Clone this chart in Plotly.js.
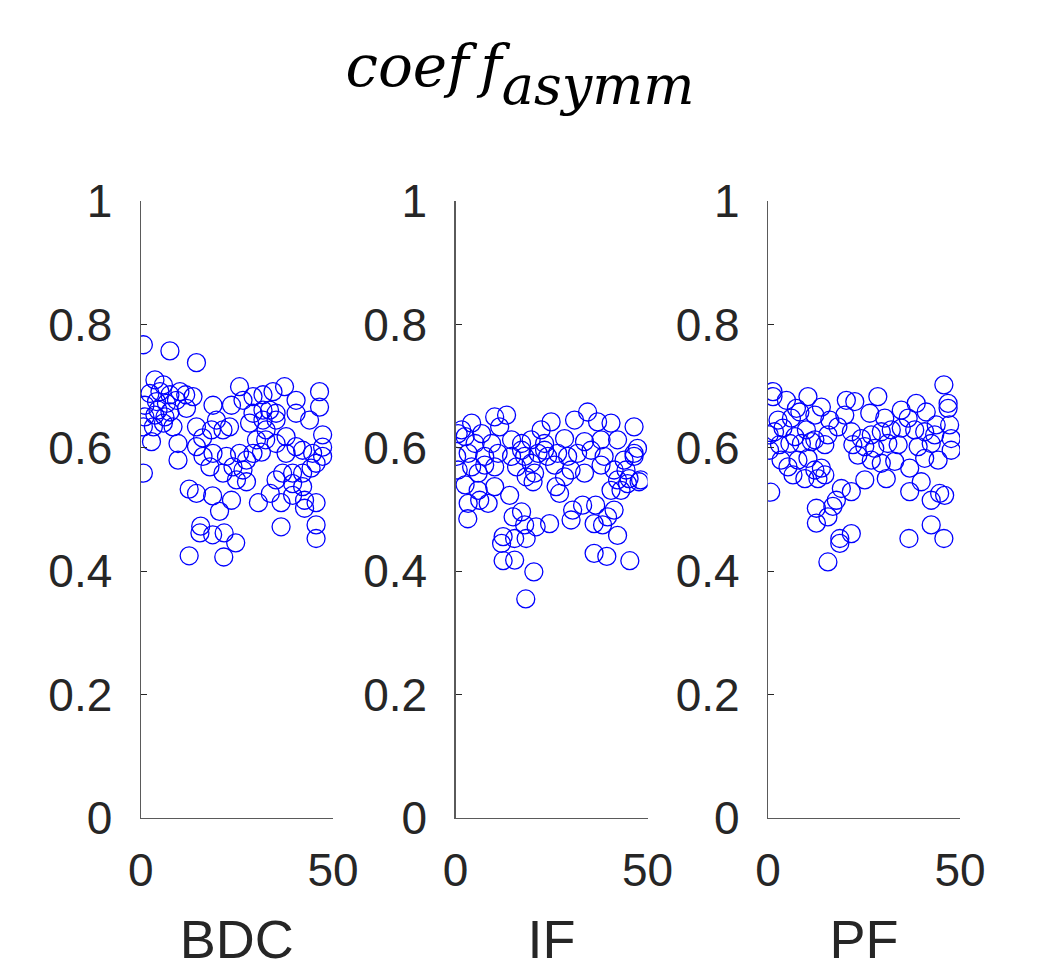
<!DOCTYPE html>
<html>
<head>
<meta charset="utf-8">
<script src="https://cdn.plot.ly/plotly-3.0.1.min.js"></script>
<style>html,body{margin:0;padding:0;background:#fff;}#chart{width:1039px;height:969px;}</style>
</head>
<body>
<div id="chart"></div>
<script>
// ---- data ----
const panelNames = ["BDC", "IF", "PF"];
const xTickVals = [0, 50];
const yTickVals = [0, 0.2, 0.4, 0.6, 0.8, 1];
const yTickText = ["0", "0.2", "0.4", "0.6", "0.8", "1"];

const bdcX = [0.7,7.6,14.5,0.7,3.7,5.9,2.4,5.0,7.6,10.2,13.6,1.1,4.1,6.7,9.3,11.9,1.1,3.7,6.3,0.7,3.3,5.9,8.4,2.8,9.7,9.7,14.5,18.8,19.7,21.4,18.4,23.1,23.6,25.7,26.6,29.2,31.8,34.4,37.4,40.4,46.5,46.5,43.9,47.3,29.2,31.8,33.5,35.2,31.8,35.2,40.4,28.3,32.6,14.5,16.2,18.8,18.0,22.3,25.7,27.5,24.0,26.6,24.9,27.5,21.4,30.1,29.2,35.2,37.8,40.4,37.8,42.1,44.7,47.3,45.6,36.9,39.5,42.1,44.3,35.2,39.5,42.1,12.6,14.5,15.6,15.4,18.7,21.7,24.7,12.6,21.6,18.7,20.5,23.6,30.6,33.7,36.5,39.5,42.6,45.6,42.6,36.5,45.6,45.6,4.5,7.6,11.7,16.1,31.4,32.5,47.3];
const bdcY = [0.767,0.757,0.738,0.559,0.710,0.702,0.688,0.691,0.686,0.691,0.683,0.669,0.675,0.672,0.677,0.664,0.650,0.653,0.650,0.634,0.634,0.640,0.634,0.610,0.607,0.580,0.634,0.669,0.645,0.629,0.629,0.634,0.669,0.699,0.677,0.683,0.686,0.691,0.699,0.677,0.691,0.666,0.645,0.621,0.656,0.661,0.661,0.656,0.645,0.645,0.656,0.640,0.629,0.602,0.586,0.591,0.569,0.586,0.591,0.580,0.569,0.564,0.548,0.545,0.559,0.613,0.591,0.607,0.618,0.602,0.591,0.596,0.591,0.586,0.575,0.559,0.559,0.559,0.567,0.548,0.542,0.537,0.533,0.526,0.473,0.462,0.459,0.462,0.446,0.425,0.423,0.522,0.497,0.515,0.511,0.526,0.511,0.523,0.515,0.511,0.502,0.472,0.475,0.453,0.661,0.658,0.686,0.616,0.593,0.613,0.601];

const ifX = [18.3,20.4,12.4,15.4,45.4,36.1,39.4,42.2,12.4,12.0,15.4,18.4,18.0,21.0,24.5,15.0,17.2,3.2,3.3,8.5,14.1,6.3,36.1,38.3,39.6,41.3,30.1,30.5,33.1,36.5,27.1,26.2,40.5,43.1,44.8,47.8,10.2,2.5,5.9,20.2,18.4,34.4,24.9,10.2,13.3,4.2,31.0,37.0,40.5,46.5,11.5,22.3,0.7,2.5,6.8,28.4,14.6,17.2,19.7,23.2,33.6,37.9,42.2,9.4,5.1,47.4,0.3,0.7,3.3,7.6,11.1,14.6,18.0,21.5,24.0,26.6,29.2,31.8,35.3,38.7,43.9,46.5,4.2,7.6,10.2,15.9,19.7,25.8,30.1,33.6,37.9,41.3,44.4,48.2,45.2,5.9,20.6,28.4,42.2,17.2,23.2,1.6,46.5];
const ifY = [0.355,0.399,0.417,0.418,0.417,0.429,0.424,0.458,0.456,0.445,0.453,0.453,0.475,0.472,0.477,0.488,0.496,0.485,0.510,0.510,0.523,0.515,0.477,0.475,0.488,0.499,0.483,0.499,0.507,0.507,0.526,0.537,0.531,0.531,0.542,0.545,0.537,0.540,0.531,0.545,0.553,0.658,0.642,0.650,0.653,0.640,0.645,0.642,0.640,0.634,0.634,0.629,0.623,0.618,0.623,0.615,0.613,0.607,0.613,0.607,0.610,0.613,0.613,0.607,0.607,0.599,0.586,0.564,0.591,0.586,0.591,0.586,0.586,0.591,0.586,0.591,0.586,0.591,0.596,0.586,0.580,0.586,0.569,0.572,0.569,0.569,0.575,0.572,0.564,0.559,0.572,0.564,0.564,0.548,0.550,0.559,0.559,0.553,0.548,0.596,0.596,0.629,0.591];

const pfX = [45.8,1.3,1.3,4.8,10.4,20.4,22.6,28.6,46.9,46.9,7.4,8.3,13.9,34.7,38.6,41.2,2.6,6.1,12.2,16.1,20.0,26.5,30.4,36.5,43.8,47.3,0.3,1.7,3.9,7.0,10.0,12.2,15.6,18.2,21.7,24.3,26.9,29.5,32.1,34.7,38.2,40.8,43.4,47.7,0.4,3.0,5.7,8.7,11.3,14.8,22.1,25.2,27.8,31.2,33.9,39.1,42.5,47.7,3.4,7.8,10.4,23.4,26.9,29.5,33.0,40.8,44.3,5.2,6.5,9.6,13.0,14.8,12.2,13.9,25.2,30.8,39.9,36.9,0.7,19.1,21.7,17.8,16.9,12.6,15.6,12.6,36.9,44.7,46.0,42.5,42.5,45.8,36.7,21.7,18.7,18.7,15.6];
const pfY = [0.702,0.691,0.683,0.677,0.683,0.677,0.675,0.683,0.672,0.664,0.664,0.658,0.666,0.661,0.672,0.658,0.645,0.648,0.653,0.645,0.653,0.656,0.648,0.648,0.637,0.637,0.621,0.626,0.632,0.618,0.629,0.613,0.621,0.634,0.626,0.615,0.621,0.626,0.629,0.632,0.629,0.626,0.621,0.615,0.596,0.605,0.607,0.607,0.610,0.605,0.605,0.602,0.599,0.607,0.605,0.602,0.607,0.596,0.580,0.580,0.583,0.588,0.580,0.575,0.578,0.583,0.580,0.569,0.556,0.550,0.550,0.556,0.564,0.567,0.548,0.550,0.545,0.567,0.528,0.534,0.529,0.515,0.505,0.502,0.488,0.478,0.529,0.526,0.523,0.515,0.475,0.453,0.453,0.461,0.453,0.445,0.415];

const seriesX = [bdcX, ifX, pfX];
const seriesY = [bdcY, ifY, pfY];

// ---- layout ----
const W = 1039, H = 969;
const xDomains = [[140.7/W, 333/W], [455.5/W, 647.5/W], [768/W, 960/W]];
const yDomain = [1 - 818/H, 1 - 201/H];
const axisColor = "#262626";
const tickFont = {family: "Liberation Sans, Arial, sans-serif", size: 46, color: axisColor};

const traces = seriesX.map((xs, i) => ({
  type: "scatter", mode: "markers",
  x: xs, y: seriesY[i],
  xaxis: i === 0 ? "x" : "x" + (i + 1),
  yaxis: i === 0 ? "y" : "y" + (i + 1),
  marker: {symbol: "circle-open", size: 18, color: "rgb(0,0,255)", line: {width: 1.3, color: "rgb(0,0,255)"}},
  showlegend: false, hoverinfo: "x+y"
}));

const layout = {
  width: W, height: H,
  margin: {l: 0, r: 0, t: 0, b: 0},
  paper_bgcolor: "#fff", plot_bgcolor: "#fff",
  showlegend: false,
  title: {
    text: "<span style='font-size:58px'><i>coef</i><i>\u2009f</i></span><sub><span style='font-size:54px'><i>asymm</i></span></sub>",
    font: {family: "DejaVu Serif, serif", size: 90, color: "#000"},
    x: 520/W, xanchor: "center", xref: "paper",
    y: 1 - 54/H, yanchor: "middle", yref: "paper"
  }
};

for (let i = 0; i < 3; i++) {
  const sx = i === 0 ? "" : String(i + 1);
  layout["xaxis" + sx] = {
    domain: xDomains[i], anchor: "y" + sx, range: [0, 50],
    tickvals: xTickVals, ticktext: xTickVals.map(String),
    ticks: "inside", ticklen: 6, tickcolor: axisColor, tickwidth: 1,
    showline: true, linecolor: "#5a5a5a", linewidth: 1.2,
    showgrid: false, zeroline: false, mirror: false,
    tickfont: tickFont, ticklabelstandoff: 12,
    title: {text: panelNames[i], font: {family: "Liberation Sans, Arial, sans-serif", size: 54, color: axisColor}, standoff: 26}
  };
  layout["yaxis" + sx] = {
    domain: yDomain, anchor: "x" + sx, range: [0, 1],
    tickvals: yTickVals, ticktext: yTickText,
    ticks: "inside", ticklen: 6, tickcolor: axisColor, tickwidth: 1,
    showline: true, linecolor: "#5a5a5a", linewidth: 1.2,
    showgrid: false, zeroline: false, mirror: false,
    tickfont: tickFont, ticklabelstandoff: 18
  };
}

Plotly.newPlot("chart", traces, layout, {displayModeBar: false, staticPlot: true});
</script>
</body>
</html>
